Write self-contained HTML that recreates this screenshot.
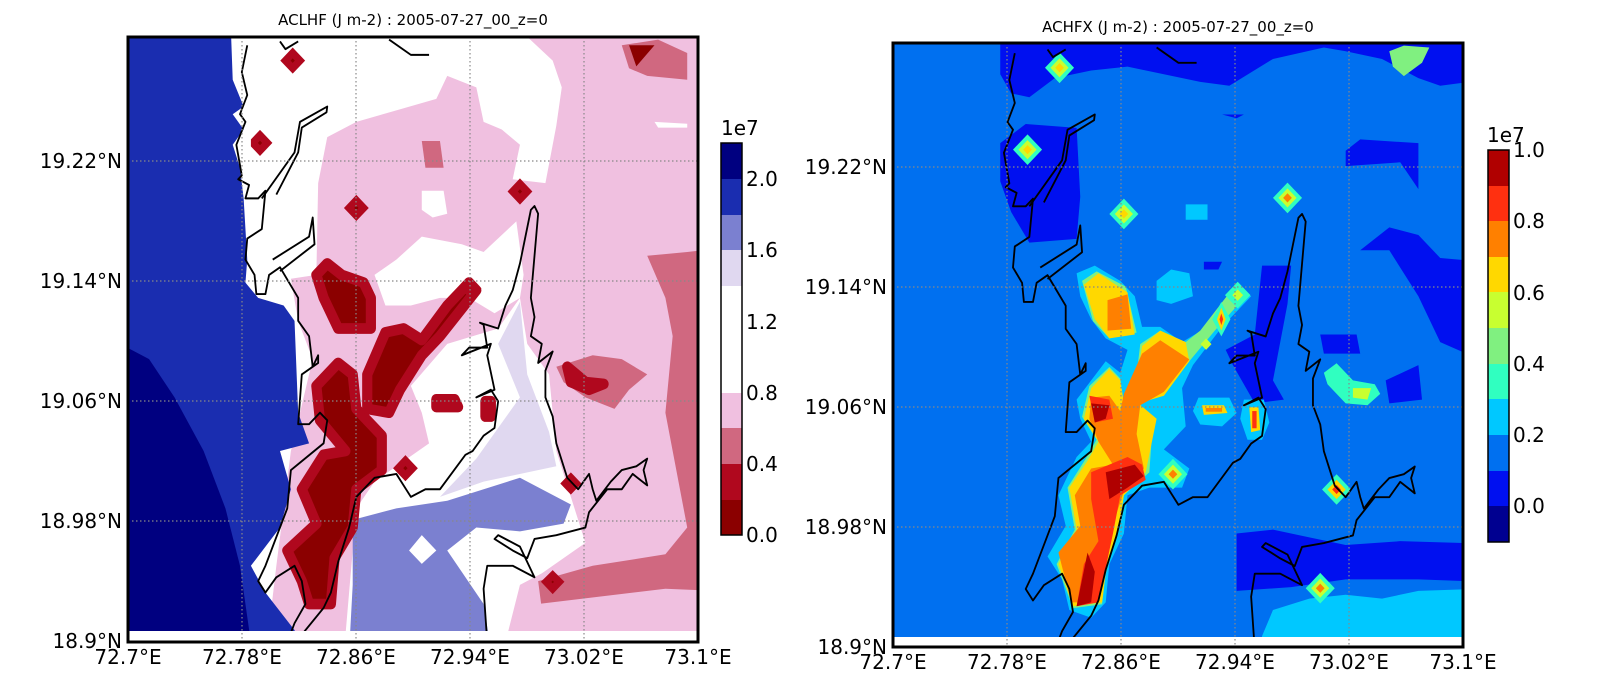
<!DOCTYPE html>
<html><head><meta charset="utf-8"><style>
html,body{margin:0;padding:0;background:#fff;width:1600px;height:689px;overflow:hidden;}
svg{display:block;font-family:"DejaVu Sans","Liberation Sans",sans-serif;}
</style></head><body>
<svg width="1600" height="689" viewBox="0 0 1600 689" xmlns="http://www.w3.org/2000/svg">
<defs>
<clipPath id="cl"><rect x="128" y="37" width="570" height="594"/></clipPath>
<clipPath id="cr"><rect x="893" y="43" width="570" height="594"/></clipPath>
<g id="coast" fill="none" stroke="#000" stroke-width="5" stroke-linejoin="round">
<polyline points="350,40 335,110 350,170 330,220 345,240 320,300 335,380 325,390 355,405 345,440 380,440 400,420 390,520 350,545 345,600 370,640 375,690 400,690 410,640 440,620 490,700 490,760 520,800 530,880 545,850 545,870 500,900 490,1030 520,1030 550,1000 570,1020 560,1080 470,1150 460,1250 440,1300 400,1400 380,1440 400,1470 430,1430 480,1400 500,1440 510,1500 480,1550 460,1600"/>
<polyline points="500,1580 560,1510 580,1470 600,1390 630,1300 650,1220 700,1170 760,1160 800,1220 840,1200 880,1200 950,1110 970,1100 1000,1060 1030,1040 1040,970 1020,940 980,960 1030,940 1010,850 1020,820 940,850 960,830 1010,830 1000,770 990,765 1040,780 1060,720 1080,680 1100,610 1130,470 1140,460 1150,480 1140,590 1130,700 1140,750 1130,800 1160,820 1150,870 1190,840 1170,890 1170,960 1190,1010 1200,1080 1220,1140 1230,1170 1260,1200 1290,1160 1300,1200 1310,1230 1350,1180 1380,1150 1420,1140 1450,1120 1440,1150 1450,1190 1410,1160 1380,1200 1340,1200 1290,1260 1280,1300 1200,1320 1140,1330 1120,1380 1080,1360 1030,1330 1040,1320 1100,1350 1140,1430 1080,1400 1010,1400 1000,1460 1010,1600"/>
<polyline points="390,440 480,320 495,240 570,200 568,215 500,255 490,320 430,430"/>
<polyline points="420,600 520,540 530,490 535,560 440,630"/>
<polyline points="440,30 455,50 490,30"/>
<polyline points="740,25 800,65 850,65"/>
</g>
</defs>

<!-- LEFT PLOT -->
<g clip-path="url(#cl)">
<g transform="translate(120,30) scale(0.3636,0.3827)">
<rect x="0" y="0" width="1800" height="1803" fill="#f0c0e0"/>
<polygon fill="#d06880" points="1450,590 1560,580 1740,560 1740,1803 1200,1803 1150,1440 1300,1400 1500,1370 1560,1300 1500,1000 1520,800 1500,700"/>
<polygon fill="#f0c0e0" points="1150,1500 1500,1460 1740,1470 1740,1803 1150,1803"/>
<polygon fill="#d06880" points="1380,40 1480,25 1560,60 1560,130 1450,120 1400,100"/>
<polygon fill="#8b0000" points="1400,40 1470,40 1420,95"/>
<polygon fill="#fff" points="300,0 1100,0 1190,80 1215,150 1200,250 1170,400 1080,390 1100,300 1050,260 1000,240 980,150 900,120 870,180 760,210 650,240 570,280 545,400 540,640 470,650 490,760 530,860 470,1100 430,1400 380,1803 300,1803"/>
<polygon fill="#fff" points="700,640 760,600 830,540 940,560 1000,580 1090,500 1110,640 1100,700 1030,740 960,700 880,700 800,720 730,720"/>
<polygon fill="#fff" points="830,420 890,420 900,480 860,490 830,470"/>
<polygon fill="#fff" points="1470,240 1560,245 1560,255 1480,255"/>
<polygon fill="#fff" points="800,930 900,820 1040,780 1100,700 1120,820 1180,900 1200,1100 1240,1220 1280,1340 1160,1420 1100,1450 1060,1600 1000,1803 600,1803 650,1250 700,1180 850,1080 830,1000"/>
<polygon fill="#e0d8f0" points="1040,820 1100,710 1120,900 1180,1050 1200,1140 1000,1180 880,1220 980,1120 1100,960"/>
<polygon fill="#7b80d0" points="640,1280 760,1250 900,1230 1100,1170 1240,1240 1220,1290 1100,1310 980,1300 900,1360 1000,1500 1020,1620 900,1803 620,1803 640,1450"/>
<polygon fill="#fff" points="830,1320 870,1360 830,1395 795,1360"/>
<polygon fill="#d06880" points="830,290 880,290 890,360 840,360"/>
<polygon fill="#d06880" points="1200,880 1300,850 1380,860 1450,900 1400,940 1360,990 1280,960 1220,920"/>
<g stroke="#b0081e" stroke-width="28" stroke-linejoin="round">
<polygon fill="#8b0000" points="540,640 570,610 610,640 670,660 690,700 690,780 600,780 560,700"/>
<polygon fill="#8b0000" points="540,930 600,870 640,900 650,990 720,1060 720,1150 650,1200 640,1300 590,1380 580,1500 520,1500 500,1440 460,1360 540,1290 500,1200 560,1110 620,1100 550,1020"/>
<polygon fill="#8b0000" points="680,900 730,790 780,780 830,810 900,720 940,680 960,660 980,680 880,800 830,850 770,940 740,1000 680,990"/>
<polygon fill="#8b0000" points="1230,880 1280,920 1330,925 1290,940 1240,920"/>
<polygon fill="#8b0000" points="870,965 920,965 930,985 870,985"/>
<polygon fill="#8b0000" points="1005,970 1020,970 1020,1010 1005,1010"/>
</g>
<g fill="#8b0000" stroke="#b0081e" stroke-width="20">
<polygon points="475,60 495,80 475,100 455,80"/>
<polygon points="385,275 405,295 385,315 365,295"/>
<polygon points="650,445 670,465 650,485 630,465"/>
<polygon points="1100,402 1120,422 1100,442 1080,422"/>
<polygon points="965,660 980,675 965,690 950,675"/>
<polygon points="785,1125 805,1145 785,1165 765,1145"/>
<polygon points="1190,1425 1208,1442 1190,1460 1172,1442"/>
<polygon points="1240,1170 1255,1185 1240,1200 1225,1185"/>
</g>
<polygon fill="#fff" points="330,0 360,0 360,1803 330,1803"/>
<polygon fill="#1a2db0" points="0,0 305,0 310,130 340,200 310,220 340,260 310,300 330,360 340,440 350,600 345,660 380,700 450,720 480,760 490,1000 520,1080 440,1100 470,1200 440,1300 360,1400 400,1470 480,1568 540,1803 0,1803"/>
<polygon fill="#000080" points="0,820 80,860 150,960 230,1100 290,1250 330,1400 360,1600 360,1803 0,1803"/>
<use href="#coast"/>
</g>
</g>
<rect x="128" y="631" width="570" height="11" fill="#fff"/>
<g stroke="#888" stroke-width="1.2" stroke-dasharray="1.5,2.5">
<line x1="242" y1="37" x2="242" y2="642"/><line x1="356" y1="37" x2="356" y2="642"/><line x1="470" y1="37" x2="470" y2="642"/><line x1="584" y1="37" x2="584" y2="642"/>
<line x1="128" y1="161" x2="698" y2="161"/><line x1="128" y1="281" x2="698" y2="281"/><line x1="128" y1="401" x2="698" y2="401"/><line x1="128" y1="521" x2="698" y2="521"/>
</g>
<rect x="128" y="37" width="570" height="605" fill="none" stroke="#000" stroke-width="3"/>
<text x="413" y="25" font-size="15" text-anchor="middle">ACLHF (J m-2) : 2005-07-27_00_z=0</text>
<g font-size="20" text-anchor="end">
<text x="122" y="168">19.22°N</text><text x="122" y="288">19.14°N</text><text x="122" y="408">19.06°N</text><text x="122" y="528">18.98°N</text><text x="122" y="648">18.9°N</text>
</g>
<g font-size="20" text-anchor="middle">
<text x="128" y="664">72.7°E</text><text x="242" y="664">72.78°E</text><text x="356" y="664">72.86°E</text><text x="470" y="664">72.94°E</text><text x="584" y="664">73.02°E</text><text x="698" y="664">73.1°E</text>
</g>
<g>
<rect x="721" y="143" width="21" height="36" fill="#000080"/>
<rect x="721" y="179" width="21" height="36" fill="#1a2db0"/>
<rect x="721" y="215" width="21" height="36" fill="#7b80d0"/>
<rect x="721" y="250" width="21" height="36" fill="#e0d8f0"/>
<rect x="721" y="286" width="21" height="107" fill="#fff"/>
<rect x="721" y="393" width="21" height="36" fill="#f0c0e0"/>
<rect x="721" y="428" width="21" height="36" fill="#d06880"/>
<rect x="721" y="464" width="21" height="36" fill="#b0081e"/>
<rect x="721" y="500" width="21" height="35" fill="#8b0000"/>
<rect x="721" y="143" width="21" height="392" fill="none" stroke="#000" stroke-width="1.5"/>
</g>
<text x="721" y="135" font-size="20">1e7</text>
<g font-size="20">
<text x="746" y="186">2.0</text><text x="746" y="257">1.6</text><text x="746" y="329">1.2</text><text x="746" y="400">0.8</text><text x="746" y="471">0.4</text><text x="746" y="542">0.0</text>
</g>

<!-- RIGHT PLOT -->
<g clip-path="url(#cr)">
<g transform="translate(873,36) scale(0.3636,0.3827)">
<rect x="0" y="0" width="1800" height="1803" fill="#0070f0"/>
<g fill="#0010f0">
<polygon points="350,0 1800,0 1800,100 1560,130 1500,110 1400,60 1300,40 1240,30 1100,60 980,130 900,120 800,100 700,80 600,90 500,110 430,160 380,150 350,100"/>
<polygon points="350,280 420,230 560,240 570,420 560,530 430,540 380,460 350,380"/>
<polygon points="1300,300 1340,270 1500,280 1500,400 1450,330 1300,340"/>
<polygon points="1340,560 1420,500 1500,520 1560,580 1800,600 1800,900 1560,800 1500,680 1420,560"/>
<polygon points="1410,900 1500,860 1510,950 1420,960"/>
<polygon points="1000,1300 1100,1290 1200,1310 1300,1330 1450,1320 1800,1330 1800,1430 1500,1420 1300,1420 1150,1440 1000,1450"/>
<polygon points="970,820 1050,780 1070,600 1150,600 1140,700 1100,900 1130,950 1050,960 990,860"/>
<polygon points="910,590 960,590 950,610 910,610"/>
<polygon points="960,205 1020,205 1000,215"/>
<polygon points="1230,780 1330,780 1340,830 1240,830"/>
</g>
<polygon fill="#00c8ff" points="1070,1568 1100,1500 1200,1470 1300,1460 1400,1470 1500,1450 1800,1440 1800,1803 1050,1803"/>
<polygon fill="#00c8ff" points="860,440 920,440 920,480 860,480"/>
<polygon fill="#00c8ff" points="780,640 820,610 870,620 880,680 820,700 780,690"/>
<polygon fill="#00c8ff" points="560,620 610,600 680,640 720,680 740,760 790,760 850,800 920,760 1000,650 1040,680 960,760 880,860 850,920 860,1020 800,1080 870,1130 850,1180 760,1180 700,1200 690,1300 650,1380 640,1480 600,1520 540,1500 520,1420 480,1360 530,1280 510,1200 560,1100 600,1060 570,1000 560,950 640,850 680,880 700,820 640,790 600,740 570,680"/>
<polygon fill="#80f080" points="575,640 615,615 695,655 725,775 650,790 605,745"/>
<polygon fill="#80f080" points="735,805 790,770 860,800 900,770 985,665 1020,685 940,770 870,850 800,935 725,960 770,1005 760,1140 690,1200 680,1265 640,1405 630,1485 550,1495 505,1380 555,1290 535,1180 585,1105 615,1055 575,995 595,915 650,865 680,895 690,960 720,925"/>
<polygon fill="#ffd800" points="580,650 620,620 700,670 720,780 650,790 610,740"/>
<polygon fill="#ffd800" points="740,810 790,770 860,800 870,850 800,940 730,960 780,1000 750,1140 690,1200 680,1260 640,1400 630,1480 550,1490 510,1380 560,1290 540,1180 590,1110 620,1060 580,1000 600,920 650,870 680,900 690,960 720,930"/>
<polygon fill="#ff8000" points="645,690 700,675 710,765 645,770"/>
<polygon fill="#ff8000" points="740,830 790,795 870,845 800,930 735,965 725,1040 745,1130 690,1190 655,1290 640,1400 620,1480 545,1480 510,1350 570,1280 555,1200 600,1130 660,1120 620,1060 595,1000 600,945 650,940 680,980 690,935"/>
<polygon fill="#ff3010" points="595,940 650,950 660,1000 610,1010"/>
<polygon fill="#ff3010" points="600,1140 700,1100 740,1120 750,1160 680,1200 660,1300 620,1480 560,1490 580,1380 620,1320 600,1210"/>
<polygon fill="#b00000" points="600,960 650,965 640,1000 610,1010"/>
<polygon fill="#b00000" points="640,1140 720,1120 745,1150 700,1180 650,1210"/>
<polygon fill="#b00000" points="590,1350 610,1400 600,1480 560,1490"/>
<polygon fill="#00c8ff" points="895,945 980,945 1000,985 960,1020 900,1015 880,980"/>
<polygon fill="#ffd800" points="905,965 965,965 975,985 910,990"/>
<polygon fill="#ff8000" points="915,972 960,972 960,982 915,982"/>
<polygon fill="#00c8ff" points="1020,950 1075,950 1090,1010 1070,1055 1030,1055 1010,1000"/>
<polygon fill="#ffd800" points="1035,970 1060,970 1065,1030 1040,1035"/>
<polygon fill="#ff3010" points="1043,980 1055,980 1055,1025 1043,1025"/>
<polygon fill="#30ffc0" points="1240,880 1275,855 1320,900 1380,910 1395,935 1360,965 1300,960 1250,910"/>
<polygon fill="#c8ff30" points="1320,920 1370,920 1360,950 1320,945"/>
<polygon fill="#80f080" points="1420,40 1460,25 1530,30 1510,70 1460,105 1430,80"/>
<g transform="translate(513,83)"><polygon fill="#30ffc0" points="0,-40 40,0 0,40 -40,0"/><polygon fill="#c8ff30" points="0,-25 25,0 0,25 -25,0"/><polygon fill="#ffd800" points="0,-12 12,0 0,12 -12,0"/></g>
<g transform="translate(425,297)"><polygon fill="#30ffc0" points="0,-40 40,0 0,40 -40,0"/><polygon fill="#c8ff30" points="0,-25 25,0 0,25 -25,0"/><polygon fill="#ffd800" points="0,-12 12,0 0,12 -12,0"/></g>
<g transform="translate(690,465)"><polygon fill="#30ffc0" points="0,-40 40,0 0,40 -40,0"/><polygon fill="#c8ff30" points="0,-25 25,0 0,25 -25,0"/><polygon fill="#ffd800" points="0,-12 12,0 0,12 -12,0"/></g>
<g transform="translate(1140,423)"><polygon fill="#30ffc0" points="0,-40 40,0 0,40 -40,0"/><polygon fill="#c8ff30" points="0,-25 25,0 0,25 -25,0"/><polygon fill="#ff8000" points="0,-12 12,0 0,12 -12,0"/></g>
<g transform="translate(825,1145)"><polygon fill="#30ffc0" points="0,-40 40,0 0,40 -40,0"/><polygon fill="#c8ff30" points="0,-25 25,0 0,25 -25,0"/><polygon fill="#ff8000" points="0,-12 12,0 0,12 -12,0"/></g>
<g transform="translate(1230,1443)"><polygon fill="#30ffc0" points="0,-40 40,0 0,40 -40,0"/><polygon fill="#c8ff30" points="0,-25 25,0 0,25 -25,0"/><polygon fill="#ff8000" points="0,-12 12,0 0,12 -12,0"/></g>
<g transform="translate(1275,1185)"><polygon fill="#30ffc0" points="0,-40 40,0 0,40 -40,0"/><polygon fill="#ffd800" points="0,-25 25,0 0,25 -25,0"/><polygon fill="#ff3010" points="0,-12 12,0 0,12 -12,0"/></g>
<g transform="translate(1003,677)"><polygon fill="#30ffc0" points="0,-35 35,0 0,35 -35,0"/><polygon fill="#c8ff30" points="0,-15 15,0 0,15 -15,0"/></g>
<g transform="translate(958,740)"><polygon fill="#30ffc0" points="0,-45 25,0 0,45 -25,0"/><polygon fill="#ffd800" points="0,-30 12,0 0,30 -12,0"/><polygon fill="#ff3010" points="0,-15 5,0 0,15 -5,0"/></g>
<g transform="translate(916,805)"><polygon fill="#c8ff30" points="0,-15 15,0 0,15 -15,0"/></g>
<g transform="translate(40,5)"><use href="#coast"/></g>
</g>
</g>
<rect x="893" y="637" width="570" height="10" fill="#fff"/>
<g stroke="#888" stroke-width="1.2" stroke-dasharray="1.5,2.5">
<line x1="1007" y1="43" x2="1007" y2="647"/><line x1="1121" y1="43" x2="1121" y2="647"/><line x1="1235" y1="43" x2="1235" y2="647"/><line x1="1349" y1="43" x2="1349" y2="647"/>
<line x1="893" y1="167" x2="1463" y2="167"/><line x1="893" y1="287" x2="1463" y2="287"/><line x1="893" y1="407" x2="1463" y2="407"/><line x1="893" y1="527" x2="1463" y2="527"/>
</g>
<rect x="893" y="43" width="570" height="604" fill="none" stroke="#000" stroke-width="3"/>
<text x="1178" y="32" font-size="15" text-anchor="middle">ACHFX (J m-2) : 2005-07-27_00_z=0</text>
<g font-size="20" text-anchor="end">
<text x="887" y="174">19.22°N</text><text x="887" y="294">19.14°N</text><text x="887" y="414">19.06°N</text><text x="887" y="534">18.98°N</text><text x="887" y="654">18.9°N</text>
</g>
<g font-size="20" text-anchor="middle">
<text x="893" y="669">72.7°E</text><text x="1007" y="669">72.78°E</text><text x="1121" y="669">72.86°E</text><text x="1235" y="669">72.94°E</text><text x="1349" y="669">73.02°E</text><text x="1463" y="669">73.1°E</text>
</g>
<g>
<rect x="1488" y="150" width="21" height="36" fill="#b00000"/>
<rect x="1488" y="186" width="21" height="36" fill="#ff3010"/>
<rect x="1488" y="221" width="21" height="36" fill="#ff8000"/>
<rect x="1488" y="257" width="21" height="36" fill="#ffd800"/>
<rect x="1488" y="292" width="21" height="36" fill="#c8ff30"/>
<rect x="1488" y="328" width="21" height="36" fill="#80f080"/>
<rect x="1488" y="364" width="21" height="36" fill="#30ffc0"/>
<rect x="1488" y="399" width="21" height="36" fill="#00c8ff"/>
<rect x="1488" y="435" width="21" height="36" fill="#0070f0"/>
<rect x="1488" y="471" width="21" height="36" fill="#0010f0"/>
<rect x="1488" y="506" width="21" height="36" fill="#000090"/>
<rect x="1488" y="150" width="21" height="392" fill="none" stroke="#000" stroke-width="1.5"/>
</g>
<text x="1487" y="142" font-size="20">1e7</text>
<g font-size="20">
<text x="1513" y="157">1.0</text><text x="1513" y="228">0.8</text><text x="1513" y="300">0.6</text><text x="1513" y="371">0.4</text><text x="1513" y="442">0.2</text><text x="1513" y="513">0.0</text>
</g>
</svg>
</body></html>
